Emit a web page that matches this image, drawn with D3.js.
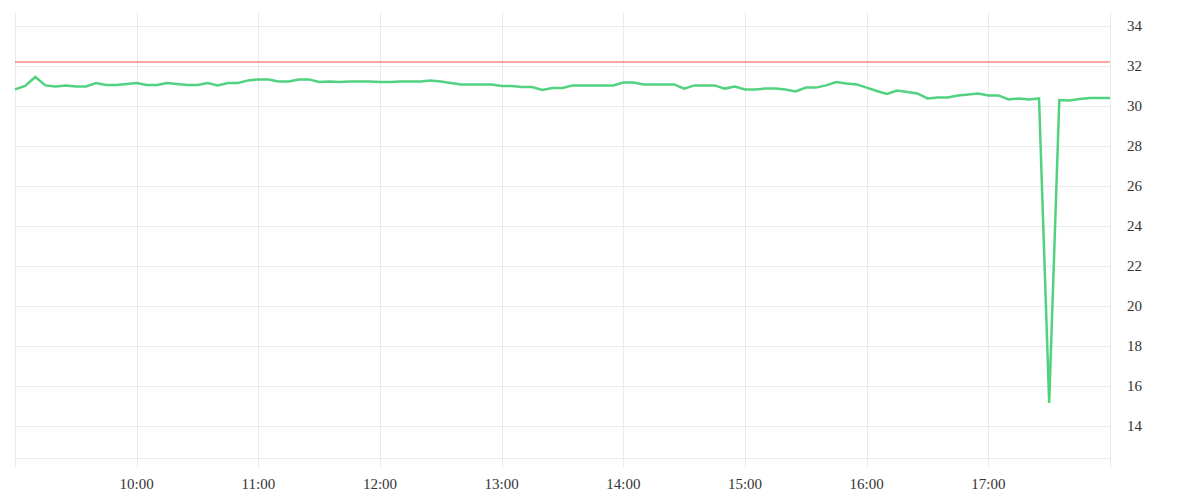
<!DOCTYPE html>
<html>
<head>
<meta charset="utf-8">
<script src="https://cdn.jsdelivr.net/npm/d3@7"></script>
<style>
  body { margin: 0; background: #fff; }
  text { font-family: "Liberation Serif", serif; font-size: 15px; fill: #333; }
</style>
</head>
<body>
<div id="chart"></div>
<script>
var svgWidth = 1200;
var svgHeight = 500;

var margin = { top: 12, right: 90, bottom: 42, left: 15 };
var width = svgWidth - margin.left - margin.right;
var height = svgHeight - margin.top - margin.bottom;

// readings every 5 minutes, 09:00 to 18:00
var startTime = "09:00";
var stepMinutes = 5;
var values = [
  30.83, 31.0, 31.45, 31.03, 30.98, 31.03, 30.98, 30.98, 31.15, 31.05,
  31.05, 31.1, 31.15, 31.05, 31.05, 31.15, 31.1, 31.05, 31.05, 31.15,
  31.03, 31.15, 31.15, 31.28, 31.33, 31.33, 31.23, 31.23, 31.33, 31.33,
  31.2, 31.23, 31.2, 31.23, 31.23, 31.23, 31.2, 31.2, 31.23, 31.23,
  31.23, 31.28, 31.23, 31.15, 31.08, 31.08, 31.08, 31.08, 31.0, 31.0,
  30.95, 30.95, 30.8, 30.9, 30.9, 31.03, 31.03, 31.03, 31.03, 31.03,
  31.17, 31.17, 31.08, 31.08, 31.08, 31.08, 30.87, 31.03, 31.03, 31.03,
  30.87, 30.97, 30.83, 30.83, 30.87, 30.87, 30.82, 30.73, 30.92, 30.92,
  31.03, 31.2, 31.13, 31.08, 30.92, 30.75, 30.6, 30.77, 30.7, 30.63,
  30.38, 30.43, 30.43, 30.53, 30.58, 30.63, 30.53, 30.53, 30.33, 30.38,
  30.33, 30.38, 15.15, 30.3, 30.27, 30.35, 30.4, 30.4, 30.4
];
var thresholdValue = 32.2;
var yTicks = [14, 16, 18, 20, 22, 24, 26, 28, 30, 32, 34];
var yDomain = [12.4, 34.7];
var xDomain = ["09:00", "18:00"];

var parseTime = d3.timeParse("%H:%M");
var t0 = parseTime(startTime);
var data = values.map(function(v, i) {
  return { time: d3.timeMinute.offset(t0, i * stepMinutes), value: v };
});

var svg = d3.select("#chart")
  .append("svg")
  .attr("width", svgWidth)
  .attr("height", svgHeight);

var chartGroup = svg.append("g")
  .attr("transform", `translate(${margin.left}, ${margin.top})`);

var xScale = d3.scaleTime()
  .domain(xDomain.map(parseTime))
  .range([0, width]);

var yScale = d3.scaleLinear()
  .domain(yDomain)
  .range([height, 0]);

var gridColor = "#ebebeb";

// horizontal grid
chartGroup.append("g")
  .selectAll("line")
  .data(yTicks)
  .enter()
  .append("line")
  .attr("x1", 0)
  .attr("x2", width)
  .attr("y1", d => Math.round(yScale(d)) + 0.5)
  .attr("y2", d => Math.round(yScale(d)) + 0.5)
  .attr("stroke", gridColor);

// bottom line
chartGroup.append("line")
  .attr("x1", 0)
  .attr("x2", width)
  .attr("y1", height + 0.5)
  .attr("y2", height + 0.5)
  .attr("stroke", gridColor);

// vertical grid, hourly, running past the bottom like ticks
var hours = d3.timeHour.range(xScale.domain()[0], d3.timeMinute.offset(xScale.domain()[1], 1));
chartGroup.append("g")
  .selectAll("line")
  .data(hours)
  .enter()
  .append("line")
  .attr("x1", d => Math.round(xScale(d)) + 0.5)
  .attr("x2", d => Math.round(xScale(d)) + 0.5)
  .attr("y1", 0)
  .attr("y2", height + 10)
  .attr("stroke", gridColor);

// x labels (inner hours only)
chartGroup.append("g")
  .selectAll("text")
  .data(hours.slice(1, -1))
  .enter()
  .append("text")
  .attr("x", d => xScale(d))
  .attr("y", height + 31)
  .attr("text-anchor", "middle")
  .text(d3.timeFormat("%H:%M"));

// y labels on the right
chartGroup.append("g")
  .selectAll("text")
  .data(yTicks)
  .enter()
  .append("text")
  .attr("x", width + 17)
  .attr("y", d => yScale(d))
  .attr("dy", "0.35em")
  .text(d => d);

// threshold line
chartGroup.append("line")
  .attr("x1", 0)
  .attr("x2", width)
  .attr("y1", yScale(thresholdValue))
  .attr("y2", yScale(thresholdValue))
  .attr("stroke", "#ff4d4f")
  .attr("stroke-width", 1);

var line = d3.line()
  .x(d => xScale(d.time))
  .y(d => yScale(d.value));

chartGroup.append("path")
  .datum(data)
  .attr("fill", "none")
  .attr("stroke", "#52d27f")
  .attr("stroke-width", 2.5)
  .attr("stroke-linejoin", "miter")
  .attr("d", line);
</script>
</body>
</html>
